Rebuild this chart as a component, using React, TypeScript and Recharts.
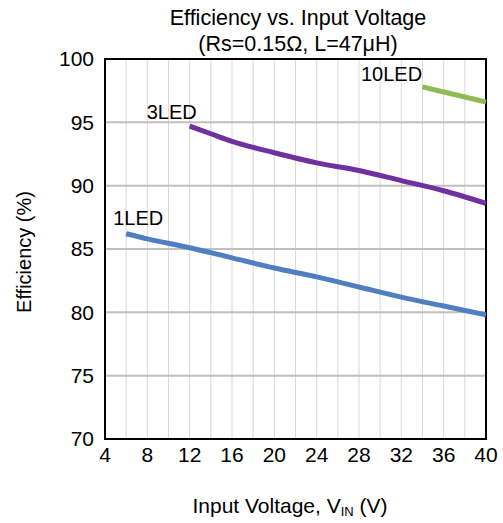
import { CartesianGrid, Line, LineChart, ReferenceArea, XAxis, YAxis } from 'recharts';

const WIDTH = 503;
const HEIGHT = 523;
const FONT = 'Arial, "Liberation Sans", sans-serif';

const X_TICKS = [4, 8, 12, 16, 20, 24, 28, 32, 36, 40];
const X_GRID = [6, 8, 10, 12, 14, 16, 18, 20, 22, 24, 26, 28, 30, 32, 34, 36, 38];
const Y_TICKS = [70, 75, 80, 85, 90, 95, 100];

const VIN_1LED = [6, 8, 12, 16, 20, 24, 28, 32, 36, 40];
const EFF_1LED = [86.2, 85.8, 85.1, 84.3, 83.5, 82.8, 82.0, 81.2, 80.5, 79.8];

const VIN_3LED = [12, 14, 16, 20, 24, 28, 32, 36, 40];
const EFF_3LED = [94.7, 94.1, 93.5, 92.6, 91.8, 91.2, 90.4, 89.6, 88.6];

const VIN_10LED = [34, 37, 40];
const EFF_10LED = [97.8, 97.2, 96.6];

const zip = (xs: number[], ys: number[]) => xs.map((v, i) => ({ vin: v, eff: ys[i] }));

// series name, colour, and where its tag sits relative to the first point
const SERIES = [
  { name: '1LED', data: zip(VIN_1LED, EFF_1LED), color: '#4f7fc0', dx: 12, dy: -16 },
  { name: '3LED', data: zip(VIN_3LED, EFF_3LED), color: '#7030a0', dx: -18, dy: -14 },
  { name: '10LED', data: zip(VIN_10LED, EFF_10LED), color: '#8fbc52', dx: -31, dy: -13 },
];

function firstPointTag(name: string, dx: number, dy: number) {
  return (p: any) =>
    p.index === 0 ? (
      <text
        x={p.x + dx}
        y={p.y + dy}
        textAnchor="middle"
        dominantBaseline="central"
        fontSize={20}
        fontFamily={FONT}
        fill="#000"
      >
        {name}
      </text>
    ) : (
      <g />
    );
}

export default function App() {
  return (
    <div style={{ position: 'absolute', left: 0, top: 0, width: WIDTH, height: HEIGHT, background: '#fff', fontFamily: FONT }}>
      <div style={{ position: 'absolute', left: 98, width: 400, top: 5, textAlign: 'center', fontSize: 21.5, lineHeight: '26px' }}>
        Efficiency vs. Input Voltage
        <br />
        (Rs=0.15Ω, L=47μH)
      </div>
      <div
        style={{
          position: 'absolute',
          left: 24,
          top: 252,
          transform: 'translate(-50%, -50%) rotate(-90deg)',
          whiteSpace: 'nowrap',
          fontSize: 20,
        }}
      >
        Efficiency (%)
      </div>
      <div style={{ position: 'absolute', left: 90, width: 400, top: 494, textAlign: 'center', fontSize: 21 }}>
        Input Voltage, V<sub style={{ fontSize: 13, verticalAlign: '-3px' }}>IN</sub> (V)
      </div>
      <LineChart width={WIDTH} height={HEIGHT} margin={{ top: 59, right: 17, bottom: 0, left: 0 }}>
        <CartesianGrid
          stroke="#d9d9d9"
          horizontal={false}
          verticalValues={X_GRID}
          strokeWidth={1}
        />
        <CartesianGrid stroke="#bfbfbf" vertical={false} horizontalValues={Y_TICKS} strokeWidth={2} />
        <XAxis
          type="number"
          dataKey="vin"
          domain={[4, 40]}
          ticks={X_TICKS}
          height={84}
          axisLine={false}
          tickLine={false}
          tickSize={0}
          tickMargin={8}
          tick={{ fill: '#000', fontSize: 21, fontFamily: FONT }}
          allowDuplicatedCategory={false}
        />
        <YAxis
          type="number"
          domain={[70, 100]}
          ticks={Y_TICKS}
          width={105}
          axisLine={false}
          tickLine={false}
          tickSize={0}
          tickMargin={11}
          tick={{ fill: '#000', fontSize: 21, fontFamily: FONT }}
        />
        <ReferenceArea x1={4} x2={40} y1={70} y2={100} fill="none" stroke="#000" strokeWidth={2} />
        {SERIES.map((s) => (
          <Line
            key={s.name}
            data={s.data}
            dataKey="eff"
            type="monotone"
            stroke={s.color}
            strokeWidth={5}
            dot={false}
            label={firstPointTag(s.name, s.dx, s.dy)}
            isAnimationActive={false}
          />
        ))}
      </LineChart>
    </div>
  );
}
